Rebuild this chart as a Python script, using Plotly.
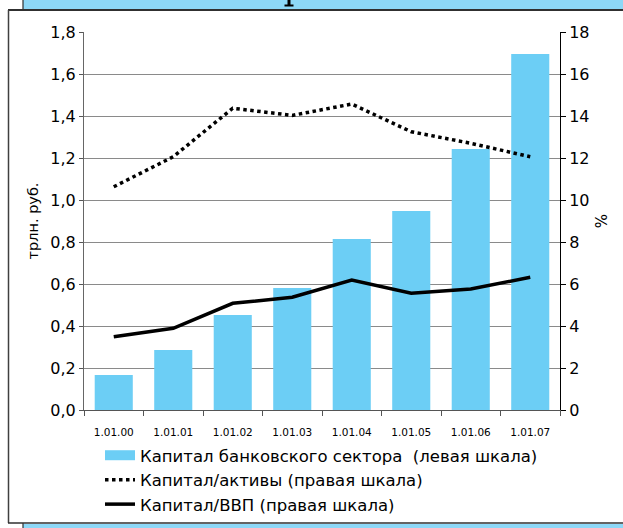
import plotly.graph_objects as go

categories = ["1.01.00", "1.01.01", "1.01.02", "1.01.03", "1.01.04", "1.01.05", "1.01.06", "1.01.07"]
capital_trln = [0.167, 0.286, 0.452, 0.581, 0.814, 0.948, 1.243, 1.695]
capital_to_assets = [10.63, 12.06, 14.37, 14.03, 14.57, 13.25, 12.7, 12.06]
capital_to_gdp = [3.49, 3.89, 5.08, 5.37, 6.19, 5.56, 5.76, 6.32]

W, H = 623, 528
L, R, T, B = 84, 560, 32, 410  # plot area in pixels

def px(x):
    return (x - L) / (R - L)

def py(y):
    return (B - y) / (B - T)

FONT = "DejaVu Sans, Liberation Sans, Arial, sans-serif"
BAR_COLOR = "#6CCEF5"
BAND = "#8DD8F7"
EDGE = "#303030"

fig = go.Figure()
fig.add_trace(go.Bar(
    x=categories, y=capital_trln,
    name="Капитал банковского сектора  (левая шкала)",
    marker=dict(color=BAR_COLOR, line=dict(width=0)),
    yaxis="y", showlegend=False, legendgroup="bar",
))
# legend entry for the bars drawn as a wide swatch
fig.add_trace(go.Scatter(
    x=[None], y=[None], mode="lines",
    name="Капитал банковского сектора  (левая шкала)",
    line=dict(color=BAR_COLOR, width=12), legendgroup="bar",
    hoverinfo="skip",
))
fig.add_trace(go.Scatter(
    x=categories, y=capital_to_assets,
    name="Капитал/активы (правая шкала)",
    mode="lines", line=dict(color="black", width=3.5, dash="dot"),
    yaxis="y2",
))
fig.add_trace(go.Scatter(
    x=categories, y=capital_to_gdp,
    name="Капитал/ВВП (правая шкала)",
    mode="lines", line=dict(color="black", width=3.5),
    yaxis="y2",
))

shapes = [
    # top light-blue band
    dict(type="rect", xref="paper", yref="paper", x0=px(23), x1=px(640), y0=py(9.5), y1=py(-5),
         fillcolor=BAND, line=dict(width=0), layer="below"),
    dict(type="line", xref="paper", yref="paper", x0=px(23), x1=px(23), y0=py(10), y1=py(-5),
         line=dict(color=EDGE, width=1.2)),
    # fragment of the clipped title glyph
    dict(type="rect", xref="paper", yref="paper", x0=px(287.5), x1=px(290.5), y0=py(5), y1=py(-2),
         fillcolor="black", line=dict(width=0)),
    dict(type="rect", xref="paper", yref="paper", x0=px(284.5), x1=px(293.5), y0=py(6.5), y1=py(4.5),
         fillcolor="black", line=dict(width=0)),
    # frame
    dict(type="line", xref="paper", yref="paper", x0=px(8), x1=px(640), y0=py(10), y1=py(10),
         line=dict(color=EDGE, width=2)),
    dict(type="line", xref="paper", yref="paper", x0=px(8.5), x1=px(8.5), y0=py(10), y1=py(523),
         line=dict(color="#404040", width=1.5)),
    dict(type="line", xref="paper", yref="paper", x0=px(8), x1=px(640), y0=py(523), y1=py(523),
         line=dict(color=EDGE, width=1.6)),
    # bottom light-blue band
    dict(type="rect", xref="paper", yref="paper", x0=px(23), x1=px(640), y0=py(524), y1=py(540),
         fillcolor=BAND, line=dict(width=0), layer="below"),
    dict(type="line", xref="paper", yref="paper", x0=px(23), x1=px(23), y0=py(523), y1=py(540),
         line=dict(color=EDGE, width=1.2)),
]

fig.update_layout(
    width=W, height=H,
    margin=dict(l=L, r=W - R, t=T, b=H - B, pad=0, autoexpand=False),
    paper_bgcolor="white", plot_bgcolor="white",
    font=dict(family=FONT, size=16, color="black"),
    separators=", ",
    bargap=0.36,
    showlegend=True,
    legend=dict(
        x=px(100), y=py(438), xanchor="left", yanchor="top",
        orientation="v", font=dict(size=16.5, family=FONT),
        bgcolor="rgba(0,0,0,0)", tracegroupgap=0, itemwidth=30,
    ),
    xaxis=dict(
        type="category", tickson="boundaries", ticks="outside", ticklen=5,
        tickcolor="#555555", showline=True, linecolor="#555555", linewidth=1,
        tickfont=dict(size=10.5), showgrid=False, automargin=False,
        ticklabelstandoff=12,
    ),
    yaxis=dict(
        range=[0, 1.8], dtick=0.2, tickformat=".1f", ticks="outside", ticklen=4,
        tickcolor="#555555", showline=True, linecolor="#666666", linewidth=1,
        showgrid=True, gridcolor="#8a8a8a", gridwidth=1, zeroline=False,
        tickfont=dict(size=16),
        title=dict(text="трлн. руб.", font=dict(size=14.5), standoff=8),
        automargin=False,
    ),
    yaxis2=dict(
        range=[0, 18], dtick=2, overlaying="y", side="right", ticks="outside", ticklen=5,
        tickcolor="black", showline=True, linecolor="black", linewidth=1,
        showgrid=False, zeroline=False, tickfont=dict(size=16),
        title=dict(text="%", font=dict(size=15), standoff=7),
        automargin=False,
    ),
    shapes=shapes,
)

fig.write_html(
    "out.html",
    config={"displayModeBar": False},
    post_script="document.body.style.margin='0';document.body.style.overflow='hidden';",
)
